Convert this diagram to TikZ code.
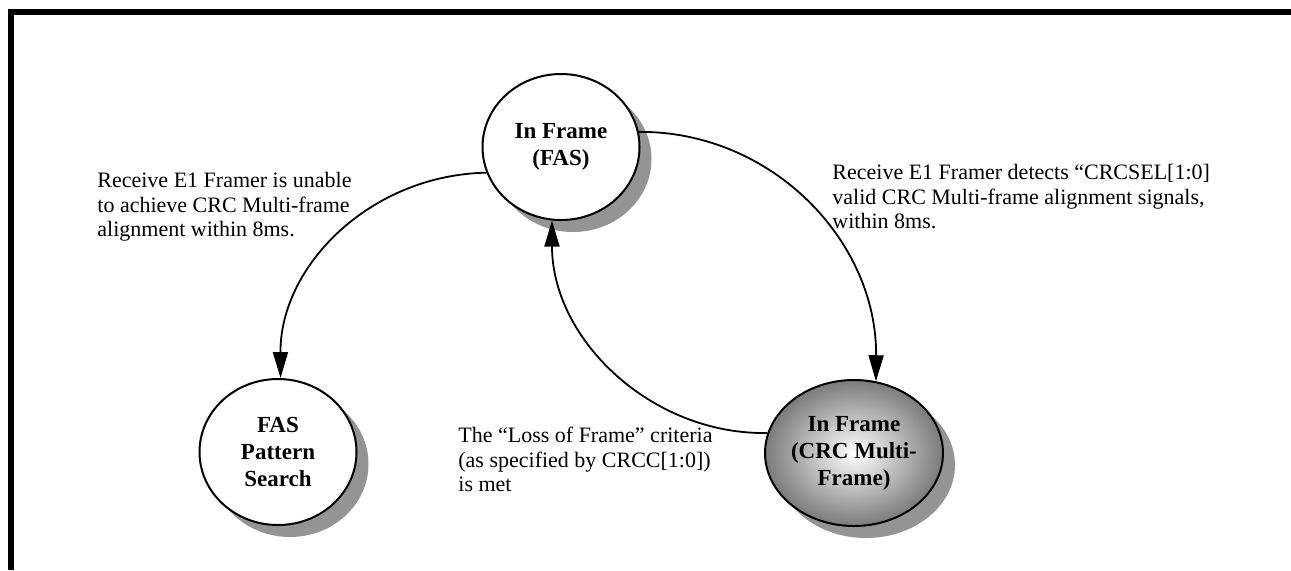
\documentclass[tikz,border=0pt]{standalone}
\usepackage{fontspec}
\setmainfont{Liberation Serif}
\usetikzlibrary{shapes.geometric, shadows, arrows.meta}

\begin{document}
\begin{tikzpicture}[x = 0.5pt, y = -0.5pt,
    every node/.style = { align = center, font = \fontsize{11.5}{13.5}\selectfont\bfseries },
    state/.style = { draw, shape = ellipse, line width = 1pt, fill = white, inner sep = 0pt,
      minimum width = 78.5pt, minimum height = 73pt,
      drop shadow = {shadow xshift=6pt, shadow yshift=-6pt, fill=black!42, opacity=1} },
    crcstate/.style = { state, shading = radial, inner color = white, outer color = black!52 },
    note/.style = { align = left, anchor = north west, inner sep = 0pt, font = \fontsize{11}{12.2}\selectfont },
    trans/.style = { line width = 0.9pt, -{Triangle[length = 13pt, width = 7.5pt]} }]

    \useasboundingbox (0,0) rectangle (1291,570);
    \draw [line width = 3pt] (11,570) -- (11,12) -- (1291,12);

    \node [state] (fas) at (561,147) { In Frame \\ (FAS) };
    \node [state] (search) at (278,452) { FAS \\ Pattern \\ Search };
    \node [crcstate] (crc) at (854,453) { In Frame \\ (CRC Multi- \\ Frame) };

    \draw [trans] (fas.11) .. controls (772,131) and (877,241) .. (crc.73);
    \draw [trans] (fas.199) .. controls (370,175) and (280,266) .. (search.88);
    \draw [trans] (crc.167) .. controls (652,435) and (552,340) .. (fas.263);

    \node [note] (unable) at (97,172) { Receive E1 Framer is unable \\ to achieve CRC Multi-frame \\ alignment within 8ms. };
    \node [note] (detects) at (832,164) { Receive E1 Framer detects “CRCSEL[1:0] \\ valid CRC Multi-frame alignment signals, \\ within 8ms. };
    \node [note] (lof) at (458,427) { The “Loss of Frame” criteria \\ (as specified by CRCC[1:0]) \\ is met };

\end{tikzpicture}
\end{document}
